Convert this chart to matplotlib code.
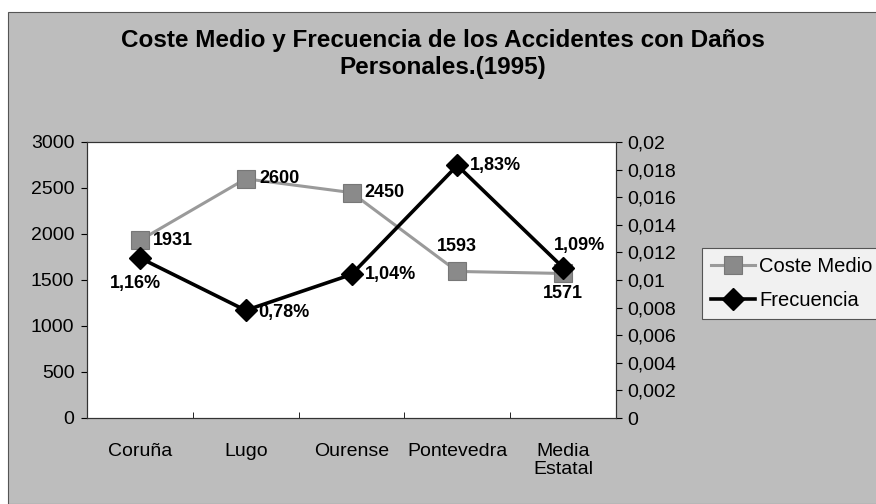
import numpy as np
import matplotlib
matplotlib.use("Agg")
import matplotlib.pyplot as plt
from matplotlib.ticker import FuncFormatter, FixedLocator
from matplotlib.patches import Rectangle

plt.rcParams['font.family'] = ['Liberation Sans', 'DejaVu Sans']

# --- datos ---
provincias = ["Coruña", "Lugo", "Ourense", "Pontevedra", "Media\nEstatal"]
coste_medio = [1931, 2600, 2450, 1593, 1571]
frecuencia = [0.0116, 0.0078, 0.0104, 0.0183, 0.0109]
etiquetas_frec = ["1,16%", "0,78%", "1,04%", "1,83%", "1,09%"]

# desplazamientos de etiquetas (px), ha, va
off_coste = [((13, 0), "left", "center"), ((14, 0), "left", "center"),
             ((13, 0), "left", "center"), ((0, 25), "center", "center"),
             ((0, -20), "center", "center")]
off_frec = [((-4, -26), "center", "center"), ((13, -2), "left", "center"),
            ((13, 0), "left", "center"), ((13, 0), "left", "center"),
            ((16, 22), "center", "center")]

BG = "#bdbdbd"
W, H = 876, 504
fig = plt.figure(figsize=(W / 100, H / 100), dpi=100)
fig.patch.set_facecolor("white")
# fondo gris del area del grafico
fig.patches.append(Rectangle((8 / W, 0), 1, 1 - 12 / H, transform=fig.transFigure,
                             facecolor=BG, edgecolor="#555555", linewidth=0.8, zorder=-10))

ax = fig.add_axes([87 / W, 1 - 418 / H, (616 - 87) / W, (418 - 142) / H])
ax.set_facecolor("white")
x = np.arange(len(provincias))

l1, = ax.plot(x, coste_medio, color="#9a9a9a", lw=2.2, marker="s", ms=13,
              mfc="#8a8a8a", mec="#777777", mew=0.8, label="Coste Medio", zorder=3)
ax.set_ylim(0, 3000)
ax.set_xlim(-0.5, len(provincias) - 0.5)
ax.set_yticks(np.arange(0, 3001, 500))
ax.set_xticks(x)
ax.set_xticklabels(provincias, linespacing=1.1)
ax.xaxis.set_minor_locator(FixedLocator(np.arange(0.5, len(provincias) - 0.5, 1)))
ax.tick_params(axis="x", which="major", length=0, pad=18, labelsize=14)
ax.tick_params(axis="x", which="minor", length=4, direction="in")
ax.tick_params(axis="y", length=4, pad=5, labelsize=14)

ax2 = ax.twinx()
l2, = ax2.plot(x, frecuencia, color="black", lw=2.6, marker="D", ms=11,
               mfc="black", mec="black", label="Frecuencia", zorder=4)
ax2.set_ylim(0, 0.02)
ax2.set_yticks(np.arange(0, 0.0201, 0.002))
ax2.yaxis.set_major_formatter(FuncFormatter(lambda v, p: f"{v:g}".replace(".", ",")))
ax2.tick_params(axis="y", length=4, pad=4, labelsize=14)

for a in (ax, ax2):
    for s in a.spines.values():
        s.set_color("#333333")
        s.set_linewidth(0.8)

for xi, v, (off, ha, va) in zip(x, coste_medio, off_coste):
    ax.annotate(f"{v}", (xi, v), xytext=(off[0] * 0.72, off[1] * 0.72),
                textcoords="offset points", ha=ha, va=va, fontsize=13,
                fontweight="bold", zorder=6)
for xi, v, t, (off, ha, va) in zip(x, frecuencia, etiquetas_frec, off_frec):
    ax2.annotate(t, (xi, v), xytext=(off[0] * 0.72, off[1] * 0.72),
                 textcoords="offset points", ha=ha, va=va, fontsize=13,
                 fontweight="bold", zorder=6)

fig.text(443 / W, 1 - 54 / H,
         "Coste Medio y Frecuencia de los Accidentes con Daños\nPersonales.(1995)",
         ha="center", va="center", fontsize=17.5, fontweight="bold", linespacing=1.25)

leg = fig.legend(handles=[l1, l2], loc="upper left", bbox_to_anchor=(702 / W, 1 - 248 / H),
                 fontsize=14.5, frameon=True, fancybox=False, handlelength=2.2,
                 handletextpad=0.2, borderpad=0.45, labelspacing=0.75, borderaxespad=0)
leg.get_frame().set_edgecolor("#333333")
leg.get_frame().set_linewidth(0.8)
leg.get_frame().set_facecolor("white")

fig.savefig("out.png", dpi=100)
